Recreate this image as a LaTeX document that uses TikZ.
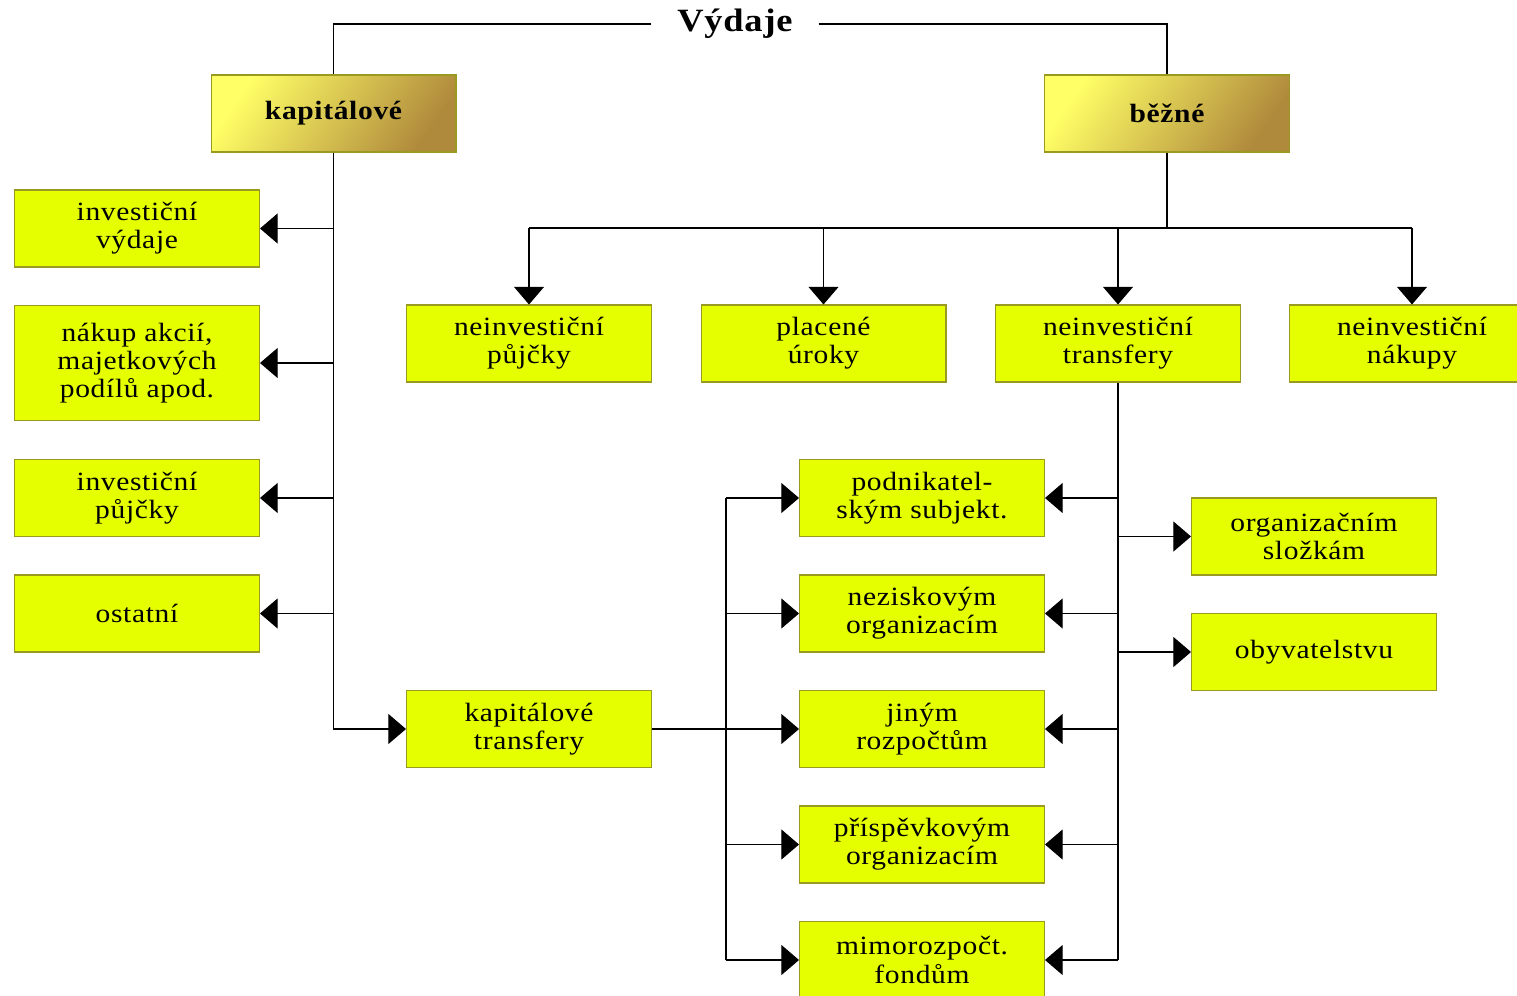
\documentclass[tikz,border=0pt]{standalone}
\usepackage{fontspec}
\setmainfont{Liberation Serif}[FakeStretch=1.12,LetterSpace=2.5]
\usetikzlibrary{arrows.meta}
\definecolor{boxfill}{HTML}{E5FF00}
\definecolor{boxline}{HTML}{9A9A20}
\definecolor{lightyel}{HTML}{FFFF66}
\definecolor{midyel}{HTML}{E9E05E}
\definecolor{goldbr}{HTML}{B08A3C}

\begin{document}
\begin{tikzpicture}[x=0.02cm,y=-0.02cm,
  box/.style={draw=boxline,fill=boxfill,line width=0.6pt,minimum width=4.9cm,minimum height=1.54cm,
    inner sep=0pt,align=center,font=\fontsize{15}{16}\selectfont},
  head/.style={box,draw=boxline,left color=lightyel,middle color=midyel,right color=goldbr,shading angle=55,
    font=\fontsize{15}{16}\selectfont\bfseries},
  arr/.style={-{Triangle[length=10pt,width=17pt]}},
  every path/.style={line width=0.6pt}]
\useasboundingbox (0,0) rectangle (1517,996);
% top
\node[font=\fontsize{18.5}{20}\selectfont\bfseries,minimum width=3.32cm,inner sep=0pt] (vydaje) at (735,24) {Výdaje};
\node[head] (kap) at (333.5,113.5) {kapitálové};
\node[head] (bez) at (1167,113.5) {běžné};
% kapitalove
\node[box] (invvyd) at (137,228.5) {investiční\\výdaje};
\node[box,minimum height=2.3cm] (nakup) at (137,363) {nákup akcií,\\majetkových\\podílů apod.};
\node[box] (invpuj) at (137,498) {investiční\\půjčky};
\node[box] (ostat) at (137,613.5) {ostatní};
\node[box] (kaptr) at (529,729) {kapitálové\\transfery};
% bezne
\node[box] (neipuj) at (529,343.5) {neinvestiční\\půjčky};
\node[box] (urok) at (823.5,343.5) {placené\\úroky};
\node[box] (neitr) at (1118,343.5) {neinvestiční\\transfery};
\node[box] (neinak) at (1412,343.5) {neinvestiční\\nákupy};
% transfery
\node[box] (podn) at (922,498) {podnikatel-\\ským subjekt.};
\node[box] (nezisk) at (922,613.5) {neziskovým\\organizacím};
\node[box] (jinym) at (922,729) {jiným\\rozpočtům};
\node[box] (prisp) at (922,844.5) {příspěvkovým\\organizacím};
\node[box] (mimo) at (922,960) {mimorozpočt.\\fondům};
\node[box] (orgsl) at (1314,536.5) {organizačním\\složkám};
\node[box] (obyv) at (1314,652) {obyvatelstvu};

\coordinate (bezjoin) at (1167,228);
\coordinate (kapsplit) at (726,729);

\draw (vydaje.west) -| (kap.north);
\draw (vydaje.east) -| (bez.north);

\draw[arr] (kap.south) |- (kaptr.west);
\draw[arr] (kap.south |- invvyd.east) -- (invvyd.east);
\draw[arr] (kap.south |- nakup.east) -- (nakup.east);
\draw[arr] (kap.south |- invpuj.east) -- (invpuj.east);
\draw[arr] (kap.south |- ostat.east) -- (ostat.east);

\draw (bez.south) -- (bezjoin);
\draw (neipuj.north |- bezjoin) -- (neinak.north |- bezjoin);
\draw[arr] (neipuj.north |- bezjoin) -- (neipuj.north);
\draw[arr] (urok.north |- bezjoin) -- (urok.north);
\draw[arr] (neitr.north |- bezjoin) -- (neitr.north);
\draw[arr] (neinak.north |- bezjoin) -- (neinak.north);

\draw (neitr.south) -- (neitr.south |- mimo.east);
\draw[arr] (neitr.south |- podn.east) -- (podn.east);
\draw[arr] (neitr.south |- nezisk.east) -- (nezisk.east);
\draw[arr] (neitr.south |- jinym.east) -- (jinym.east);
\draw[arr] (neitr.south |- prisp.east) -- (prisp.east);
\draw[arr] (neitr.south |- mimo.east) -- (mimo.east);
\draw[arr] (neitr.south |- orgsl.west) -- (orgsl.west);
\draw[arr] (neitr.south |- obyv.west) -- (obyv.west);

\draw (kaptr.east) -- (kapsplit);
\draw (kapsplit |- podn.west) -- (kapsplit |- mimo.west);
\draw[arr] (kapsplit |- podn.west) -- (podn.west);
\draw[arr] (kapsplit |- nezisk.west) -- (nezisk.west);
\draw[arr] (kapsplit) -- (jinym.west);
\draw[arr] (kapsplit |- prisp.west) -- (prisp.west);
\draw[arr] (kapsplit |- mimo.west) -- (mimo.west);
\end{tikzpicture}
\end{document}
